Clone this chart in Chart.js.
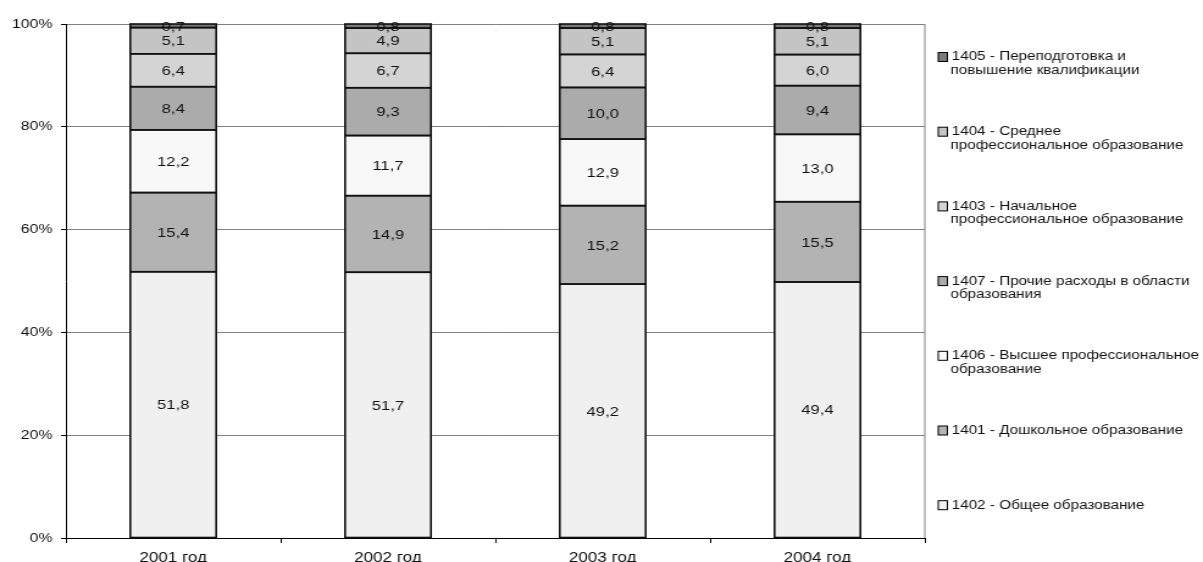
<!DOCTYPE html>
<html>
<head>
<meta charset="utf-8">
<script src="https://cdn.jsdelivr.net/npm/chart.js@4.4.1/dist/chart.umd.min.js"></script>
<style>
  html, body { margin: 0; padding: 0; background: #fff; overflow: hidden; }
  #chart { display: block; }
</style>
</head>
<body>
<!-- the original picture is stretched sideways, so the canvas is drawn narrow and widened by css -->
<canvas id="chart" width="986" height="562" style="width:1203px;height:562px"></canvas>
<script>
const years = ['2001 год', '2002 год', '2003 год', '2004 год'];

// series in stacking order, bottom to top
const v1402 = [51.8, 51.7, 49.2, 49.4];
const v1401 = [15.4, 14.9, 15.2, 15.5];
const v1406 = [12.2, 11.7, 12.9, 13.0];
const v1407 = [8.4, 9.3, 10.0, 9.4];
const v1403 = [6.4, 6.7, 6.4, 6.0];
const v1404 = [5.1, 4.9, 5.1, 5.1];
const v1405 = [0.7, 0.8, 0.8, 0.8];

const yTicks = [0, 20, 40, 60, 80, 100];

const series = [
    { name: ['1402 - Общее образование'], values: v1402, color: '#f0f0f0' },
    { name: ['1401 - Дошкольное образование'], values: v1401, color: '#b3b3b3' },
    { name: ['1406 - Высшее профессиональное', 'образование'], values: v1406, color: '#f8f8f8' },
    { name: ['1407 - Прочие расходы в области', 'образования'], values: v1407, color: '#ababab' },
    { name: ['1403 - Начальное', 'профессиональное образование'], values: v1403, color: '#d4d4d4' },
    { name: ['1404 - Среднее', 'профессиональное образование'], values: v1404, color: '#c4c4c4' },
    { name: ['1405 - Переподготовка и', 'повышение квалификации'], values: v1405, color: '#7a7a7a' }
];

const FONT = "'Liberation Sans', Arial, sans-serif";

// 100% stacked: share of each column total
let totals = years.map((y, i) => series.reduce((s, ser) => s + ser.values[i], 0));

function fmt(v) {
    return v.toFixed(1).replace('.', ',');
}

// outline every segment with an even black line, then write its value
const barMarks = {
    id: 'barMarks',
    afterDatasetsDraw(chart) {
        const ctx = chart.ctx;
        ctx.save();
        ctx.strokeStyle = '#111';
        ctx.lineWidth = 1.6;
        chart.data.datasets.forEach((ds, di) => {
            chart.getDatasetMeta(di).data.forEach(bar => {
                const w = bar.width;
                ctx.strokeRect(bar.x - w / 2, bar.y, w, bar.base - bar.y);
            });
        });
        ctx.font = '13.5px ' + FONT;
        ctx.fillStyle = '#111';
        ctx.textAlign = 'center';
        ctx.textBaseline = 'middle';
        chart.data.datasets.forEach((ds, di) => {
            chart.getDatasetMeta(di).data.forEach((bar, i) => {
                const cy = (bar.y + bar.base) / 2;
                ctx.fillText(fmt(ds.raw[i]), bar.x, cy + 1);
            });
        });
        ctx.restore();
    }
};

const rightBorder = {
    id: 'rightBorder',
    beforeDatasetsDraw(chart) {
        const a = chart.chartArea;
        const ctx = chart.ctx;
        ctx.save();
        ctx.strokeStyle = '#808080';
        ctx.lineWidth = 1;
        ctx.beginPath();
        ctx.moveTo(a.right, a.top);
        ctx.lineTo(a.right, a.bottom);
        ctx.stroke();
        ctx.restore();
    }
};

const sideLegend = {
    id: 'sideLegend',
    afterDraw(chart) {
        const ctx = chart.ctx;
        ctx.save();
        ctx.font = '12.5px ' + FONT;
        ctx.textBaseline = 'middle';
        const items = series.slice().reverse();
        items.forEach((ser, k) => {
            const y = 57 + k * 74.7;
            ctx.fillStyle = ser.color;
            ctx.fillRect(769, y - 4.5, 7.5, 9);
            ctx.strokeStyle = '#000';
            ctx.lineWidth = 1;
            ctx.strokeRect(769, y - 4.5, 7.5, 9);
            ctx.fillStyle = '#111';
            ser.name.forEach((line, j) => {
                ctx.fillText(line, j === 0 ? 780 : 779, y + j * 13.5);
            });
        });
        ctx.restore();
    }
};

new Chart(document.getElementById('chart'), {
    type: 'bar',
    data: {
        labels: years,
        datasets: series.map(ser => ({
            label: ser.name.join(' '),
            data: ser.values.map((v, i) => v / totals[i] * 100),
            raw: ser.values,
            backgroundColor: ser.color,
            borderWidth: 0,
            inflateAmount: 0,
            barPercentage: 0.4,
            categoryPercentage: 1.0
        }))
    },
    options: {
        responsive: false,
        animation: false,
        layout: { padding: { top: 24, right: 228, left: 0, bottom: 0 } },
        plugins: {
            legend: { display: false },
            tooltip: { enabled: false }
        },
        scales: {
            x: {
                stacked: true,
                grid: { drawOnChartArea: false, drawTicks: true, tickLength: 5, color: '#000', offset: true },
                border: { color: '#000', width: 1 },
                ticks: { color: '#111', font: { family: FONT, size: 14 }, padding: 7 },
                afterFit: scale => { scale.height = 24; }
            },
            y: {
                stacked: true,
                min: 0,
                max: 100,
                afterBuildTicks: scale => { scale.ticks = yTicks.map(v => ({ value: v })); },
                grid: { color: '#808080', tickLength: 4, tickColor: '#000' },
                border: { color: '#000', width: 1 },
                ticks: {
                    color: '#111',
                    font: { family: FONT, size: 13 },
                    padding: 7,
                    callback: v => v + '%'
                },
                afterFit: scale => { scale.width = 54; }
            }
        }
    },
    plugins: [rightBorder, barMarks, sideLegend]
});
</script>
</body>
</html>
